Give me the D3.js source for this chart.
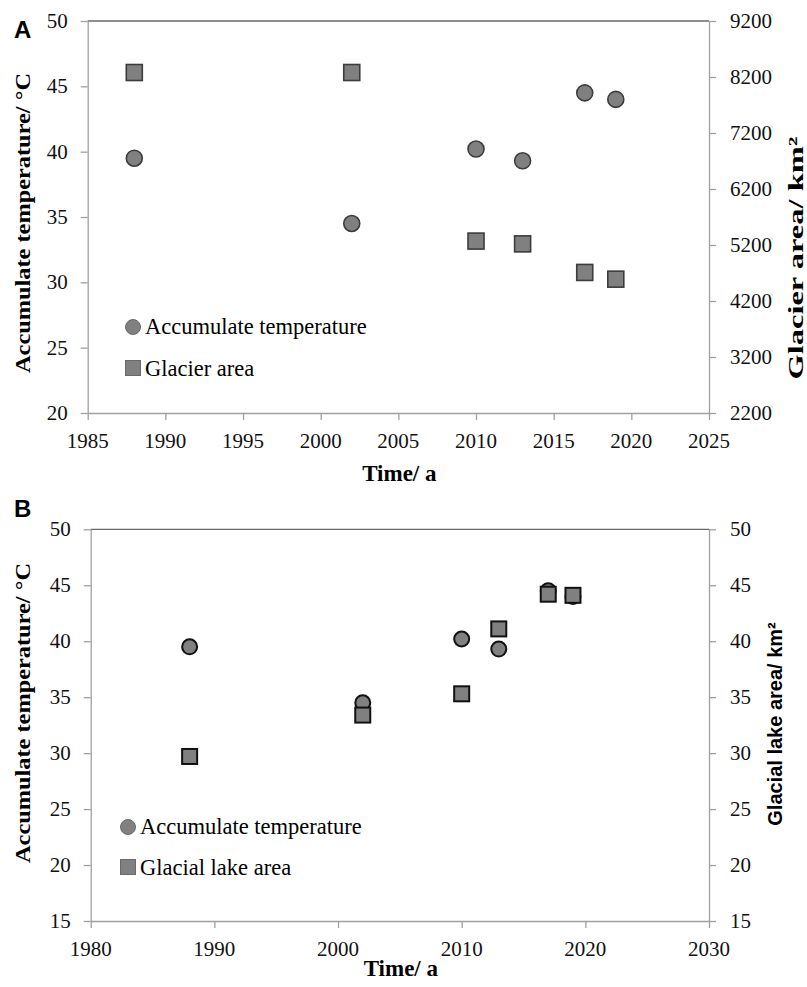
<!DOCTYPE html>
<html>
<head>
<meta charset="utf-8">
<script src="https://cdn.jsdelivr.net/npm/d3@7"></script>
<style>
  body { margin: 0; background: #fff; }
  svg { display: block; }
</style>
</head>
<body>
<div id="chart"></div>
<script>
// data
const years = [1988, 2002, 2010, 2013, 2017, 2019];
const accumTemp = [39.5, 34.5, 40.2, 39.3, 44.5, 44.0];
const glacierArea = [8280, 8280, 5270, 5220, 4710, 4590];
const lakeArea = [29.7, 33.4, 35.3, 41.1, 44.2, 44.1];

const ticksA_x = [1985, 1990, 1995, 2000, 2005, 2010, 2015, 2020, 2025];
const ticksA_left = [20, 25, 30, 35, 40, 45, 50];
const ticksA_right = [2200, 3200, 4200, 5200, 6200, 7200, 8200, 9200];
const ticksB_x = [1980, 1990, 2000, 2010, 2020, 2030];
const ticksB_y = [15, 20, 25, 30, 35, 40, 45, 50];

const serif = "Liberation Serif, Times New Roman, serif";
const sans = "Liberation Sans, Arial, sans-serif";
const axisGray = "#a0a0a0";

const svg = d3.select("#chart")
    .append("svg")
    .attr("width", 807)
    .attr("height", 987);

var draw_panel = function (p) {
    const g = svg.append("g");

    const x = d3.scaleLinear().domain(p.xDomain).range([p.left, p.right]);
    const yL = d3.scaleLinear().domain(p.yLDomain).range([p.bottom, p.top]);
    const yR = d3.scaleLinear().domain(p.yRDomain).range([p.bottom, p.top]);

    // top border of plot area
    g.append("line")
        .attr("x1", p.left).attr("x2", p.right)
        .attr("y1", p.top).attr("y2", p.top)
        .attr("stroke", "#6a6a6a").attr("stroke-width", 1.3);

    // axis lines and ticks (labels drawn separately below)
    const xAxis = g.append("g")
        .attr("transform", `translate(0, ${p.bottom})`)
        .call(d3.axisBottom(x).tickValues(p.xTicks).tickFormat("")
            .tickSize(7).tickSizeOuter(0));

    const leftAxis = g.append("g")
        .attr("transform", `translate(${p.left}, 0)`)
        .call(d3.axisLeft(yL).tickValues(p.yLTicks).tickFormat("")
            .tickSize(7).tickSizeOuter(0));

    const rightAxis = g.append("g")
        .attr("transform", `translate(${p.right}, 0)`)
        .call(d3.axisRight(yR).tickValues(p.yRTicks).tickFormat("")
            .tickSize(7).tickSizeOuter(0));

    [xAxis, leftAxis, rightAxis].forEach(function (a) {
        a.select(".domain").attr("stroke", axisGray).attr("stroke-width", 1.3);
        a.selectAll(".tick line").attr("stroke", axisGray).attr("stroke-width", 1.3);
    });

    // tick labels
    g.selectAll("text.xlab")
        .data(p.xTicks)
        .enter().append("text")
        .attr("class", "xlab")
        .attr("x", d => x(d))
        .attr("y", p.bottom + 35)
        .attr("text-anchor", "middle")
        .attr("font-family", serif).attr("font-size", 21).attr("fill", "#111")
        .text(d => d);

    g.selectAll("text.ylab")
        .data(p.yLTicks)
        .enter().append("text")
        .attr("class", "ylab")
        .attr("x", p.left - 20)
        .attr("y", d => yL(d) + 7)
        .attr("text-anchor", "end")
        .attr("font-family", serif).attr("font-size", 21).attr("fill", "#111")
        .text(d => d);

    g.selectAll("text.rlab")
        .data(p.yRTicks)
        .enter().append("text")
        .attr("class", "rlab")
        .attr("x", p.right + 21)
        .attr("y", d => yR(d) + 7)
        .attr("text-anchor", "start")
        .attr("font-family", serif).attr("font-size", 21).attr("fill", "#111")
        .text(d => d);

    // circles (accumulate temperature)
    g.selectAll("circle.temp")
        .data(years)
        .enter().append("circle")
        .attr("class", "temp")
        .attr("cx", d => x(d))
        .attr("cy", (d, i) => yL(accumTemp[i]))
        .attr("r", p.r)
        .attr("fill", "#808080")
        .attr("stroke", p.markStroke)
        .attr("stroke-width", p.markWidth);

    // squares (area on right axis)
    g.selectAll("rect.area")
        .data(years)
        .enter().append("rect")
        .attr("class", "area")
        .attr("x", d => x(d) - p.sq / 2)
        .attr("y", (d, i) => yR(p.areaValues[i]) - p.sq / 2)
        .attr("width", p.sq)
        .attr("height", p.sq)
        .attr("fill", "#808080")
        .attr("stroke", p.markStroke)
        .attr("stroke-width", p.markWidth);

    // legend
    g.append("circle")
        .attr("cx", p.legX).attr("cy", p.legY1)
        .attr("r", 7.5)
        .attr("fill", "#808080").attr("stroke", "#6a6a6a").attr("stroke-width", 1);
    g.append("text")
        .attr("x", p.legX + 12).attr("y", p.legY1 + 7)
        .attr("font-family", serif).attr("font-size", 22.5)
        .text("Accumulate temperature");
    g.append("rect")
        .attr("x", p.legX - 7.5).attr("y", p.legY2 - 7.5)
        .attr("width", 15).attr("height", 15)
        .attr("fill", "#808080").attr("stroke", "#6a6a6a").attr("stroke-width", 1);
    g.append("text")
        .attr("x", p.legX + 12).attr("y", p.legY2 + 8)
        .attr("font-family", serif).attr("font-size", 22.5)
        .text(p.areaLegend);

    // axis titles
    g.append("text")
        .attr("text-anchor", "middle")
        .attr("x", (p.left + p.right) / 2 + 1)
        .attr("y", p.timeY)
        .attr("font-family", serif).attr("font-size", 23).attr("font-weight", "bold")
        .text("Time/ a");

    g.append("text")
        .attr("text-anchor", "middle")
        .attr("transform", `translate(${p.leftTitleX}, ${p.leftTitleY}) rotate(-90)`)
        .attr("font-family", serif).attr("font-size", 21).attr("font-weight", "bold")
        .attr("textLength", 300).attr("lengthAdjust", "spacingAndGlyphs")
        .text("Accumulate temperature/ °C");

    const rt = g.append("text")
        .attr("text-anchor", "middle")
        .attr("transform", `translate(${p.rightTitleX}, ${p.rightTitleY}) rotate(-90)`)
        .attr("font-family", p.rightTitleFont)
        .attr("font-size", p.rightTitleSize)
        .attr("font-weight", "bold");
    if (p.rightTitleLength) {
        rt.attr("textLength", p.rightTitleLength).attr("lengthAdjust", "spacingAndGlyphs");
    }
    rt.text(p.rightTitle);

    // panel letter
    g.append("text")
        .attr("x", 14).attr("y", p.letterY)
        .attr("font-family", sans).attr("font-size", 24).attr("font-weight", "bold")
        .text(p.letter);
};

draw_panel({
    letter: "A", letterY: 38,
    left: 87.7, right: 709, top: 21, bottom: 413,
    xDomain: [1985, 2025], yLDomain: [20, 50], yRDomain: [2200, 9200],
    xTicks: ticksA_x, yLTicks: ticksA_left, yRTicks: ticksA_right,
    areaValues: glacierArea, areaLegend: "Glacier area",
    r: 8, sq: 16, markStroke: "#3c3c3c", markWidth: 1.6,
    legX: 133, legY1: 327, legY2: 368,
    timeY: 481,
    leftTitleX: 30, leftTitleY: 223,
    rightTitleX: 803, rightTitleY: 258,
    rightTitle: "Glacier area/ km²", rightTitleFont: serif, rightTitleSize: 22,
    rightTitleLength: 243
});

draw_panel({
    letter: "B", letterY: 517,
    left: 90.7, right: 709, top: 529.3, bottom: 921,
    xDomain: [1980, 2030], yLDomain: [15, 50], yRDomain: [15, 50],
    xTicks: ticksB_x, yLTicks: ticksB_y, yRTicks: ticksB_y,
    areaValues: lakeArea, areaLegend: "Glacial lake area",
    r: 7.5, sq: 15, markStroke: "#111", markWidth: 2,
    legX: 128, legY1: 827, legY2: 867,
    timeY: 976,
    leftTitleX: 30, leftTitleY: 713,
    rightTitleX: 782, rightTitleY: 724,
    rightTitle: "Glacial lake area/ km²", rightTitleFont: sans, rightTitleSize: 20
});
</script>
</body>
</html>
